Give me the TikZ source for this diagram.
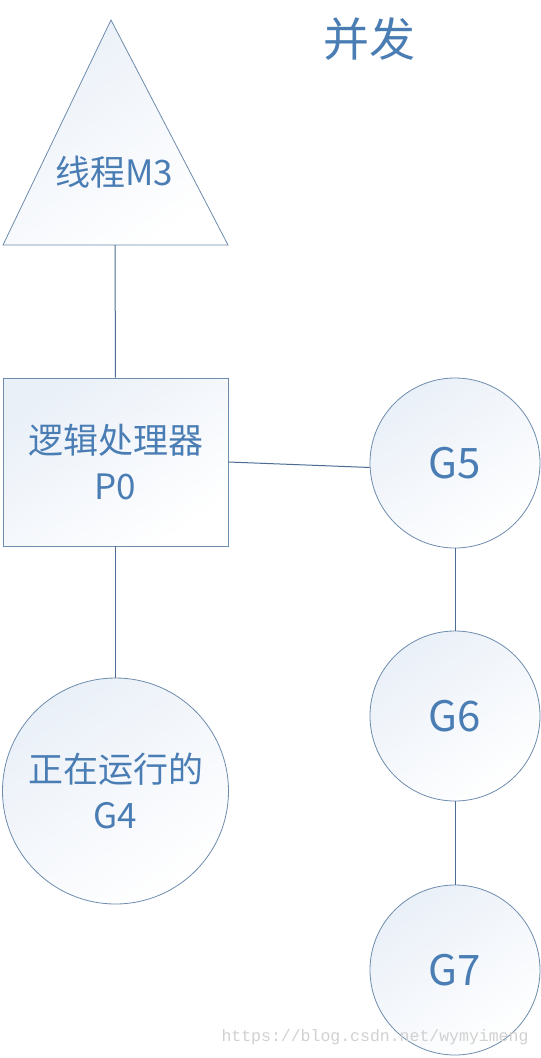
\documentclass[tikz,border=0pt]{standalone}
\usepackage{fontspec}
\setmainfont{Noto Sans CJK SC}
\newfontfamily\wmfont{Liberation Mono}
\definecolor{txt}{HTML}{4A7DB4}
\definecolor{edge}{HTML}{6E8CAE}
\definecolor{conn}{HTML}{4C6C93}
\definecolor{shadec}{HTML}{EAF0F8}
\begin{document}
\begin{tikzpicture}[x=1pt,y=-1pt,
  fillgrad/.style={top color=shadec, bottom color=white, shading angle=35},
  shapeline/.style={draw=edge, line width=0.8pt},
  gnode/.style={circle, shapeline, fillgrad, minimum size=170pt, inner sep=0pt,
     text=txt, font=\fontsize{42}{48}\selectfont},
  lbl/.style={text=txt, align=center},
  conline/.style={draw=conn, line width=1pt}]
\useasboundingbox (0,0) rectangle (541,1058);
\fill[white] (0,0) rectangle (541,1058);
% title
\node[lbl, font=\fontsize{46}{52}\selectfont] (title) at (369,39) {并发};
% triangle M3
\path[shapeline, fillgrad] (111,20) -- (228,245) -- (3,245) -- cycle;
\coordinate (m3b) at (115,245);
\node[lbl, font=\fontsize{35}{40}\selectfont] (m3) at (114,172) {线程M3};
% processor box
\node[rectangle, shapeline, fillgrad, minimum width=225pt, minimum height=168pt,
      inner sep=0pt] (box) at (115.5,462) {};
\node[lbl, font=\fontsize{35}{46}\selectfont] (boxt) at (115.5,462) {逻辑处理器\\P0};
% goroutines
\node[circle, shapeline, fillgrad, minimum size=226pt, inner sep=0pt] (g4) at (115.5,791) {};
\node[lbl, font=\fontsize{35}{46}\selectfont] (g4t) at (115.5,791) {正在运行的\\G4};
\node[gnode] (g5) at (455,463) {G5};
\node[gnode] (g6) at (455,716) {G6};
\node[gnode] (g7) at (455,970) {G7};
% connectors
\draw[conline] (m3b) -- (box.north);
\draw[conline] (box.south) -- (g4.north);
\draw[conline] (box.east) -- (g5.183);
\draw[conline] (g5.south) -- (g6.north);
\draw[conline] (g6.south) -- (g7.north);
% watermark
\node[text=black!18, font=\wmfont\fontsize{16.5}{18}\selectfont, anchor=west] (wm) at (218,1037) {https://blog.csdn.net/wymyimeng};
\end{tikzpicture}
\end{document}
